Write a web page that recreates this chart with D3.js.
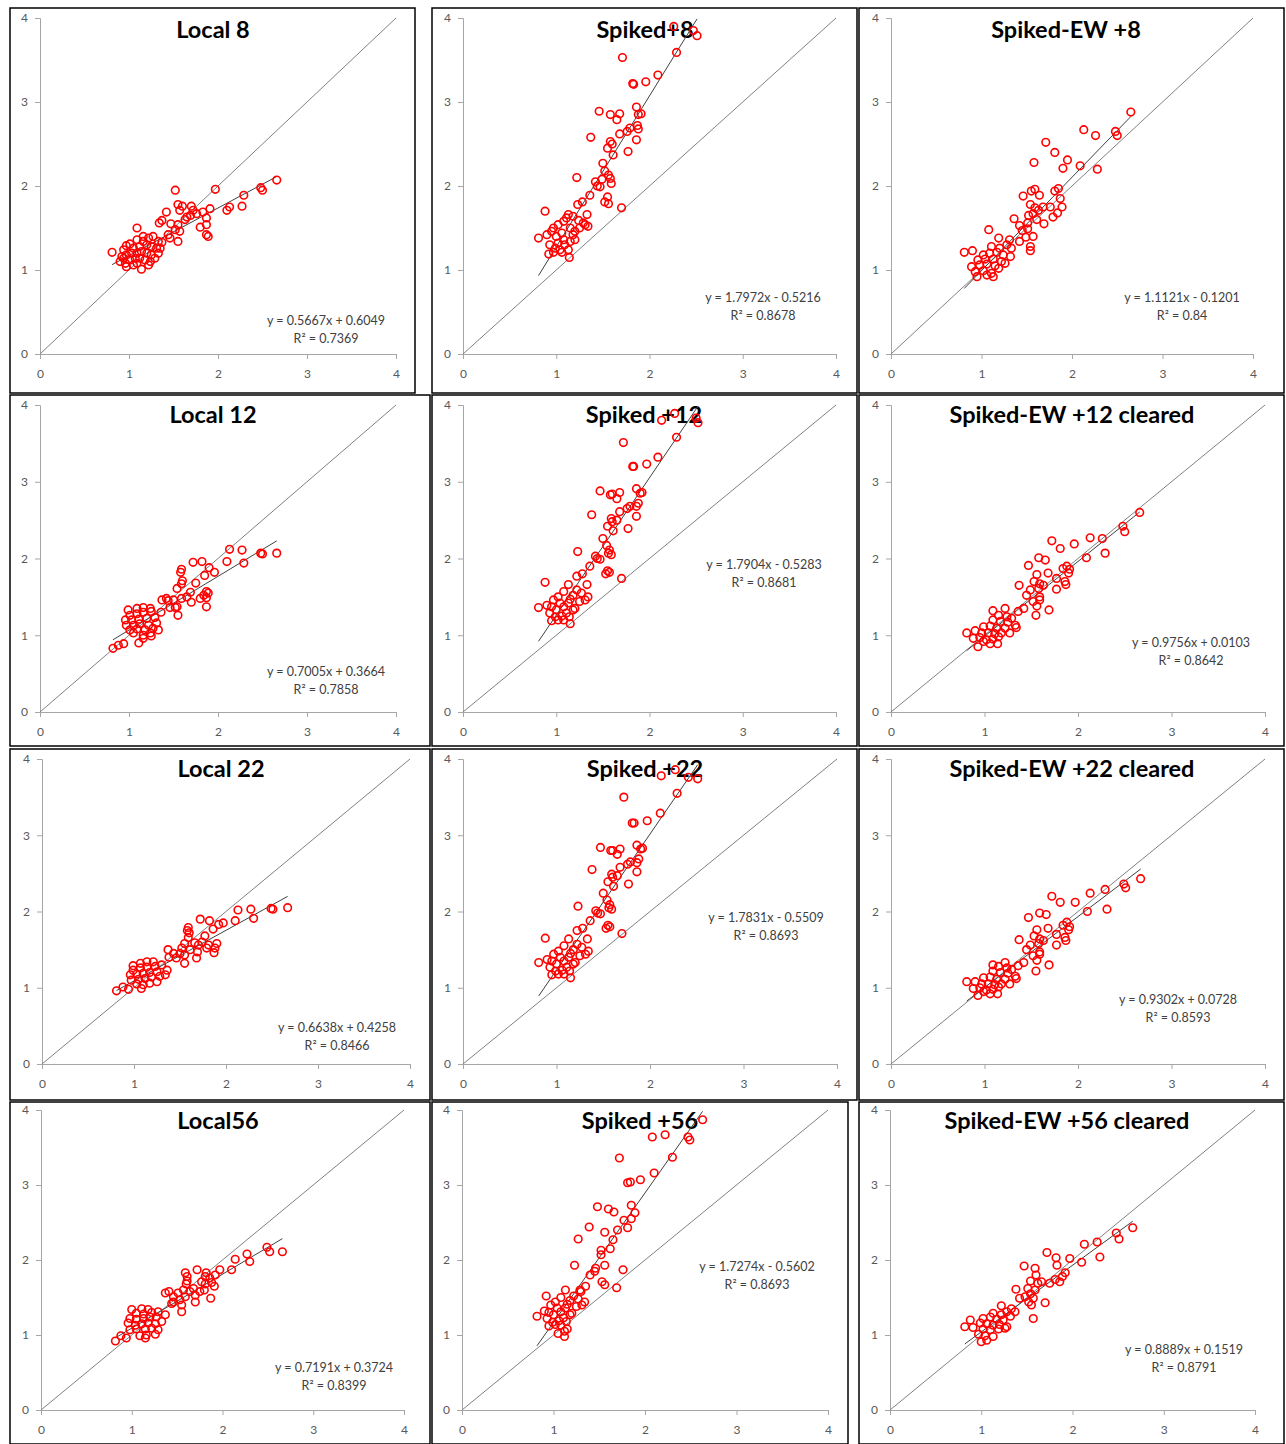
<!DOCTYPE html>
<html><head><meta charset="utf-8">
<script src="https://cdn.jsdelivr.net/npm/d3@7"></script>
<style>body{margin:0;background:#fff}svg{display:block}</style>
</head><body><svg id="c" width="1286" height="1444"></svg>
<script>
// ---------- DATA ----------
const titles = ["Local 8","Spiked+8","Spiked-EW +8","Local 12","Spiked +12","Spiked-EW +12 cleared","Local 22","Spiked +22","Spiked-EW +22 cleared","Local56","Spiked +56","Spiked-EW +56 cleared"];
const slopes = [0.5667,1.7972,1.1121,0.7005,1.7904,0.9756,0.6638,1.7831,0.9302,0.7191,1.7274,0.8889];
const intercepts = [0.6049,-0.5216,-0.1201,0.3664,-0.5283,0.0103,0.4258,-0.5509,0.0728,0.3724,-0.5602,0.1519];
const r2Labels = ["0.7369","0.8678","0.84","0.7858","0.8681","0.8642","0.8466","0.8693","0.8593","0.8399","0.8693","0.8791"];
const eqLabels = ["y = 0.5667x + 0.6049","y = 1.7972x - 0.5216","y = 1.1121x - 0.1201","y = 0.7005x + 0.3664","y = 1.7904x - 0.5283","y = 0.9756x + 0.0103","y = 0.6638x + 0.4258","y = 1.7831x - 0.5509","y = 0.9302x + 0.0728","y = 0.7191x + 0.3724","y = 1.7274x - 0.5602","y = 0.8889x + 0.1519"];
const tickValues = [0,1,2,3,4];

const local8 = [[2.66,2.07],[2.48,1.98],[2.50,1.95],[2.29,1.89],[2.27,1.76],[2.13,1.75],[2.10,1.71],[1.97,1.96],[1.52,1.95],[1.55,1.78],[1.60,1.76],[1.57,1.71],[1.70,1.76],[1.72,1.71],[1.69,1.65],[1.76,1.67],[1.83,1.69],[1.91,1.73],[1.65,1.63],[1.63,1.60],[1.87,1.62],[1.42,1.69],[1.37,1.59],[1.34,1.56],[1.47,1.55],[1.55,1.54],[1.57,1.46],[1.52,1.48],[1.80,1.51],[1.87,1.54],[1.87,1.42],[1.89,1.40],[1.55,1.34],[1.46,1.38],[1.44,1.42],[1.09,1.50],[0.81,1.21],
[0.97,1.29],[1.01,1.31],[1.09,1.36],[1.16,1.40],[1.22,1.38],[1.27,1.40],[1.33,1.34],[1.37,1.33],[0.94,1.24],[1.05,1.26],[1.12,1.28],[1.20,1.30],[1.25,1.28],[1.31,1.26],[0.92,1.16],[0.97,1.18],[1.03,1.20],[1.09,1.20],[1.14,1.22],[1.20,1.20],[1.25,1.18],[1.33,1.20],[0.90,1.10],[0.96,1.08],[1.01,1.12],[1.07,1.14],[1.12,1.14],[1.18,1.12],[1.24,1.10],[1.29,1.14],[0.97,1.04],[1.05,1.06],[1.14,1.01],[1.22,1.06],[1.09,1.08],[0.94,1.14],[1.16,1.34],[1.35,1.26]];

const spiked8 = [[2.26,3.90],[2.47,3.85],[2.51,3.79],[2.29,3.59],[1.71,3.53],[2.09,3.32],[1.96,3.24],[1.82,3.22],[1.83,3.21],[1.46,2.89],[1.58,2.85],[1.68,2.86],[1.65,2.79],[1.86,2.94],[1.91,2.86],[1.88,2.85],[1.79,2.69],[1.76,2.65],[1.87,2.72],[1.88,2.68],[1.68,2.62],[1.37,2.58],[1.58,2.53],[1.60,2.50],[1.86,2.55],[1.55,2.45],[1.77,2.41],[1.61,2.37],[1.50,2.27],[1.52,2.18],[1.56,2.13],[1.58,2.09],[1.59,2.03],[1.22,2.10],[1.49,2.08],[1.42,2.05],[1.44,2.00],[1.47,1.99],[1.36,1.89],[1.55,1.87],[1.52,1.81],[1.56,1.79],[1.70,1.74],[1.28,1.81],[1.23,1.78],[0.88,1.70],
[1.13,1.66],[1.11,1.62],[1.08,1.58],[1.02,1.54],[0.97,1.50],[1.18,1.64],[1.24,1.59],[1.29,1.56],[1.34,1.52],[1.33,1.66],[0.81,1.38],[0.90,1.42],[0.95,1.46],[1.00,1.40],[1.06,1.44],[1.15,1.50],[1.20,1.46],[1.25,1.50],[1.31,1.54],[0.93,1.30],[0.99,1.26],[1.04,1.24],[1.09,1.30],[1.15,1.34],[1.20,1.36],[0.92,1.19],[0.97,1.21],[1.06,1.21],[1.14,1.15],[1.13,1.24],[1.18,1.42],[1.08,1.36],[1.02,1.32]];

const spikedEW8 = [[2.65,2.88],[2.48,2.65],[2.50,2.60],[2.13,2.67],[2.26,2.60],[2.28,2.20],[2.09,2.24],[1.71,2.52],[1.81,2.40],[1.58,2.28],[1.95,2.31],[1.90,2.21],[1.46,1.88],[1.55,1.94],[1.59,1.96],[1.64,1.89],[1.81,1.94],[1.85,1.97],[1.87,1.85],[1.54,1.78],[1.59,1.74],[1.68,1.75],[1.76,1.75],[1.84,1.68],[1.89,1.75],[1.79,1.63],[1.52,1.65],[1.57,1.67],[1.63,1.71],[1.61,1.60],[1.36,1.61],[1.42,1.53],[1.51,1.56],[1.69,1.55],[1.45,1.47],[1.51,1.49],[1.57,1.40],[1.49,1.39],[1.42,1.34],[1.54,1.28],[1.54,1.23],[1.08,1.48],[1.19,1.38],[1.31,1.36],[1.28,1.30],[1.33,1.26],[0.81,1.21],[0.90,1.23],
[1.11,1.28],[1.20,1.26],[1.02,1.18],[1.09,1.20],[1.17,1.21],[1.24,1.18],[0.96,1.12],[1.04,1.13],[1.13,1.13],[1.22,1.10],[0.89,1.04],[0.98,1.06],[1.06,1.07],[1.15,1.05],[1.26,1.08],[0.93,0.98],[1.02,0.99],[1.11,0.96],[0.95,0.92],[1.06,0.94],[1.13,0.92],[1.19,1.02],[1.32,1.16]];

const local12 = [[2.66,2.07],[2.48,2.07],[2.50,2.06],[2.27,2.11],[2.29,1.94],[2.13,2.12],[2.10,1.96],[1.82,1.96],[1.72,1.95],[1.90,1.88],[1.96,1.82],[1.85,1.78],[1.59,1.86],[1.58,1.82],[1.60,1.71],[1.59,1.67],[1.75,1.68],[1.54,1.61],[1.87,1.57],[1.84,1.52],[1.89,1.55],[1.80,1.48],[1.87,1.49],[1.69,1.56],[1.65,1.50],[1.59,1.48],[1.70,1.43],[1.87,1.37],[1.54,1.37],[1.55,1.26],[1.50,1.46],[1.44,1.45],[1.37,1.46],[1.42,1.48],[1.46,1.36],[1.52,1.36],[1.36,1.30],[0.99,1.33],[0.82,0.83],[0.88,0.87],[0.94,0.89],[1.11,0.90],[1.16,0.96],[1.25,0.99],
[1.09,1.35],[1.16,1.36],[1.24,1.35],[1.01,1.26],[1.09,1.28],[1.16,1.30],[1.25,1.31],[0.96,1.20],[1.03,1.20],[1.11,1.21],[1.20,1.22],[1.29,1.23],[0.97,1.13],[1.05,1.13],[1.12,1.15],[1.22,1.13],[1.31,1.16],[1.01,1.07],[1.09,1.08],[1.18,1.07],[1.27,1.09],[1.33,1.07],[1.05,1.03],[1.16,1.00],[1.24,1.03]];

const spiked12 = [[2.27,3.89],[2.13,3.80],[2.50,3.83],[2.52,3.77],[2.29,3.58],[1.72,3.51],[2.09,3.32],[1.97,3.23],[1.82,3.20],[1.83,3.20],[1.47,2.88],[1.58,2.83],[1.60,2.84],[1.68,2.86],[1.65,2.78],[1.86,2.91],[1.90,2.85],[1.92,2.86],[1.79,2.68],[1.76,2.65],[1.88,2.72],[1.86,2.68],[1.68,2.61],[1.38,2.57],[1.59,2.52],[1.60,2.48],[1.65,2.50],[1.86,2.55],[1.55,2.42],[1.77,2.39],[1.61,2.36],[1.50,2.26],[1.54,2.17],[1.57,2.11],[1.59,2.05],[1.56,2.07],[1.23,2.09],[1.42,2.03],[1.44,2.00],[1.47,1.99],[1.36,1.90],[1.55,1.84],[1.53,1.80],[1.57,1.82],[1.70,1.74],[1.28,1.80],[1.22,1.77],[0.88,1.69],
[1.13,1.66],[1.33,1.66],[1.22,1.59],[1.27,1.55],[1.34,1.50],[1.08,1.57],[1.02,1.50],[0.97,1.46],[1.15,1.47],[1.18,1.52],[0.81,1.36],[0.90,1.39],[0.95,1.37],[1.00,1.33],[1.08,1.37],[1.13,1.42],[1.20,1.35],[1.25,1.44],[1.31,1.46],[0.93,1.29],[0.99,1.24],[1.06,1.25],[1.11,1.29],[1.18,1.33],[0.95,1.19],[1.02,1.20],[1.14,1.24],[1.15,1.15],[1.08,1.20],[1.04,1.42]];

const spikedEW12 = [[2.66,2.60],[2.48,2.42],[2.50,2.35],[2.26,2.26],[2.13,2.27],[2.29,2.07],[2.09,2.01],[1.96,2.19],[1.72,2.23],[1.81,2.13],[1.58,2.01],[1.65,1.98],[1.47,1.91],[1.88,1.90],[1.84,1.87],[1.91,1.86],[1.90,1.81],[1.68,1.81],[1.77,1.74],[1.86,1.70],[1.87,1.66],[1.77,1.60],[1.56,1.79],[1.53,1.70],[1.59,1.67],[1.63,1.65],[1.58,1.61],[1.49,1.59],[1.45,1.52],[1.37,1.65],[1.59,1.50],[1.52,1.44],[1.59,1.46],[1.56,1.38],[1.69,1.33],[1.55,1.26],[1.42,1.35],[1.36,1.31],[1.09,1.32],[1.22,1.35],
[1.15,1.26],[1.24,1.24],[1.29,1.22],[1.09,1.20],[1.17,1.18],[1.25,1.17],[1.33,1.13],[0.99,1.11],[1.06,1.12],[1.13,1.09],[1.22,1.09],[1.34,1.10],[0.81,1.03],[0.90,1.06],[0.97,1.03],[1.04,1.03],[1.11,1.02],[1.18,1.03],[1.27,1.03],[0.88,0.96],[0.95,0.97],[1.02,0.94],[1.09,0.95],[1.15,0.98],[0.93,0.85],[0.99,0.92],[1.06,0.89],[1.14,0.89]];

const local22 = [[2.67,2.05],[2.49,2.04],[2.51,2.03],[2.27,2.03],[2.30,1.91],[2.13,2.02],[2.10,1.88],[1.97,1.85],[1.92,1.83],[1.82,1.88],[1.72,1.90],[1.86,1.77],[1.59,1.79],[1.58,1.75],[1.60,1.72],[1.59,1.66],[1.77,1.68],[1.66,1.59],[1.70,1.56],[1.74,1.60],[1.81,1.56],[1.90,1.58],[1.88,1.52],[1.87,1.46],[1.79,1.52],[1.69,1.47],[1.68,1.39],[1.55,1.58],[1.52,1.52],[1.61,1.50],[1.50,1.45],[1.55,1.43],[1.46,1.39],[1.55,1.32],[1.37,1.50],[1.43,1.45],[1.38,1.40],[0.99,1.29],[0.81,0.96],[0.88,1.01],[0.94,0.98],
[1.07,1.32],[1.14,1.34],[1.21,1.34],[0.99,1.23],[1.07,1.26],[1.14,1.27],[1.23,1.28],[1.30,1.30],[0.96,1.17],[1.03,1.18],[1.10,1.19],[1.17,1.20],[1.25,1.21],[1.36,1.23],[0.97,1.10],[1.05,1.11],[1.12,1.12],[1.19,1.14],[1.28,1.15],[1.34,1.17],[1.03,1.05],[1.10,1.04],[1.17,1.06],[1.25,1.08],[1.08,0.99]];

const spiked22 = [[2.12,3.78],[2.27,3.86],[2.41,3.76],[2.51,3.74],[2.29,3.55],[1.72,3.50],[2.11,3.29],[1.97,3.19],[1.81,3.16],[1.83,3.16],[1.47,2.84],[1.58,2.80],[1.60,2.80],[1.68,2.82],[1.65,2.75],[1.86,2.87],[1.90,2.82],[1.92,2.83],[1.79,2.65],[1.76,2.62],[1.88,2.69],[1.86,2.64],[1.68,2.58],[1.38,2.55],[1.59,2.49],[1.60,2.45],[1.65,2.47],[1.86,2.52],[1.55,2.39],[1.77,2.36],[1.61,2.33],[1.50,2.24],[1.54,2.15],[1.57,2.09],[1.59,2.03],[1.56,2.05],[1.23,2.07],[1.42,2.01],[1.44,1.98],[1.47,1.97],[1.36,1.88],[1.55,1.82],[1.53,1.78],[1.57,1.80],[1.70,1.71],[1.28,1.78],[1.22,1.75],[0.88,1.65],
[1.13,1.64],[1.33,1.64],[1.22,1.57],[1.27,1.53],[1.34,1.48],[1.08,1.55],[1.02,1.48],[0.97,1.44],[1.15,1.45],[1.18,1.50],[0.81,1.33],[0.90,1.37],[0.95,1.35],[1.00,1.31],[1.08,1.35],[1.13,1.40],[1.20,1.33],[1.25,1.42],[1.31,1.44],[0.93,1.27],[0.99,1.22],[1.06,1.23],[1.11,1.27],[1.18,1.31],[0.95,1.17],[1.02,1.18],[1.14,1.22],[1.15,1.13],[1.08,1.18],[1.04,1.40]];

const spikedEW22 = [[2.67,2.43],[2.49,2.36],[2.51,2.31],[2.29,2.29],[2.13,2.24],[2.31,2.03],[2.10,2.00],[1.97,2.12],[1.72,2.20],[1.81,2.12],[1.59,1.98],[1.66,1.96],[1.47,1.92],[1.88,1.86],[1.84,1.82],[1.91,1.80],[1.90,1.76],[1.68,1.78],[1.77,1.70],[1.86,1.66],[1.87,1.62],[1.77,1.56],[1.56,1.76],[1.53,1.68],[1.59,1.64],[1.63,1.62],[1.58,1.58],[1.49,1.56],[1.45,1.50],[1.37,1.63],[1.59,1.47],[1.52,1.42],[1.59,1.44],[1.56,1.36],[1.69,1.30],[1.55,1.22],[1.42,1.33],[1.36,1.29],[1.09,1.30],[1.22,1.33],
[1.15,1.28],[1.24,1.26],[1.29,1.24],[1.09,1.22],[1.17,1.20],[1.25,1.19],[1.33,1.15],[0.99,1.13],[1.06,1.14],[1.13,1.11],[1.22,1.11],[1.34,1.12],[0.81,1.08],[0.90,1.08],[0.97,1.05],[1.04,1.05],[1.11,1.04],[1.18,1.05],[1.27,1.05],[0.88,0.99],[0.95,1.00],[1.02,0.97],[1.09,0.98],[1.15,1.01],[0.93,0.90],[0.99,0.95],[1.06,0.92],[1.14,0.92]];

const local56 = [[2.66,2.11],[2.49,2.17],[2.52,2.11],[2.27,2.08],[2.30,1.98],[2.14,2.01],[2.10,1.87],[1.97,1.87],[1.72,1.87],[1.82,1.83],[1.81,1.78],[1.92,1.80],[1.86,1.76],[1.88,1.70],[1.91,1.65],[1.81,1.68],[1.80,1.60],[1.87,1.49],[1.59,1.83],[1.61,1.78],[1.61,1.72],[1.60,1.68],[1.77,1.71],[1.68,1.62],[1.75,1.58],[1.70,1.53],[1.64,1.58],[1.70,1.44],[1.57,1.60],[1.51,1.56],[1.59,1.51],[1.53,1.47],[1.46,1.44],[1.55,1.40],[1.55,1.31],[1.37,1.56],[1.41,1.58],[1.46,1.51],[1.44,1.42],[1.00,1.34],[0.82,0.92],[0.88,0.99],[0.94,0.96],
[1.11,1.35],[1.18,1.34],[1.05,1.29],[1.13,1.28],[1.22,1.30],[1.29,1.31],[0.98,1.22],[1.05,1.21],[1.13,1.22],[1.20,1.24],[1.27,1.24],[0.96,1.16],[1.04,1.13],[1.11,1.15],[1.18,1.16],[1.26,1.15],[1.33,1.18],[1.37,1.27],[0.98,1.07],[1.05,1.08],[1.15,1.08],[1.22,1.09],[1.29,1.07],[1.09,0.99],[1.16,1.00],[1.26,1.01],[1.15,0.96]];

const spiked56 = [[2.63,3.87],[2.47,3.64],[2.49,3.60],[2.22,3.67],[2.08,3.64],[2.30,3.37],[1.72,3.36],[2.10,3.16],[1.95,3.07],[1.81,3.03],[1.84,3.04],[1.48,2.71],[1.60,2.68],[1.66,2.64],[1.85,2.73],[1.89,2.63],[1.39,2.44],[1.77,2.53],[1.81,2.43],[1.56,2.37],[1.65,2.27],[1.52,2.13],[1.52,2.07],[1.56,1.93],[1.27,2.28],[1.46,1.89],[1.76,1.87],[1.53,1.71],[1.56,1.67],[1.69,1.63],[1.23,1.93],[1.29,1.60],[0.92,1.52],[0.82,1.25],[1.40,1.80],[1.45,1.85],[1.35,1.65],[1.62,2.15],[1.70,2.40],[1.85,2.55],
[1.13,1.60],[1.30,1.58],[1.22,1.52],[1.27,1.48],[1.34,1.44],[1.08,1.50],[1.02,1.44],[0.97,1.40],[1.15,1.41],[1.18,1.46],[0.90,1.32],[0.95,1.30],[1.00,1.27],[1.08,1.31],[1.13,1.36],[1.20,1.29],[1.25,1.38],[1.31,1.40],[0.93,1.22],[0.99,1.17],[1.06,1.19],[1.11,1.23],[1.18,1.27],[0.95,1.12],[1.02,1.14],[1.14,1.18],[1.15,1.08],[1.08,1.13],[1.04,1.36],[1.12,1.05],[1.05,1.02],[1.12,0.98]];

const spikedEW56 = [[2.66,2.43],[2.48,2.36],[2.51,2.28],[2.27,2.24],[2.30,2.04],[2.13,2.21],[2.10,1.97],[1.97,2.02],[1.72,2.10],[1.82,2.03],[1.83,1.93],[1.92,1.83],[1.89,1.78],[1.86,1.71],[1.81,1.74],[1.75,1.69],[1.47,1.92],[1.59,1.89],[1.60,1.80],[1.54,1.72],[1.62,1.69],[1.66,1.71],[1.38,1.61],[1.51,1.62],[1.59,1.60],[1.54,1.55],[1.48,1.51],[1.42,1.49],[1.57,1.49],[1.52,1.44],[1.55,1.40],[1.70,1.43],[1.22,1.39],[1.57,1.22],[0.88,1.20],[0.82,1.11],
[1.33,1.35],[1.28,1.31],[1.37,1.31],[1.13,1.29],[1.22,1.27],[1.32,1.25],[1.02,1.22],[1.10,1.24],[1.17,1.21],[1.24,1.20],[0.99,1.16],[1.06,1.15],[1.13,1.13],[1.20,1.14],[1.28,1.11],[0.91,1.10],[1.02,1.08],[1.10,1.07],[1.19,1.08],[1.26,1.09],[0.97,1.01],[1.04,0.99],[1.13,0.98],[1.06,0.93],[1.00,0.91]];

const seriesData = [local8,spiked8,spikedEW8,local12,spiked12,spikedEW12,local22,spiked22,spikedEW22,local56,spiked56,spikedEW56];

// ---------- LAYOUT (pixels, not data) ----------
const layout = [
 {box:[10,8,415,393],  xr:[40,396],  yr:[354,18],   title:[213,32],   eq:[326,322]},
 {box:[432,8,857,393], xr:[463,836], yr:[354,18],   title:[645,32],   eq:[763,299]},
 {box:[859,8,1284,393],xr:[891,1253],yr:[354,18],   title:[1066,32],  eq:[1182,299]},
 {box:[10,395,430,746], xr:[40,396],  yr:[712,405],  title:[213,417],  eq:[326,673]},
 {box:[432,395,857,746],xr:[463,836], yr:[712,405],  title:[644,417],  eq:[764,566]},
 {box:[859,395,1284,746],xr:[891,1265],yr:[712,405], title:[1072,417], eq:[1191,644]},
 {box:[10,749,430,1100],xr:[42,410],  yr:[1064,759], title:[221,771],  eq:[337,1029]},
 {box:[432,749,857,1100],xr:[463,837],yr:[1064,759], title:[645,771],  eq:[766,919]},
 {box:[859,749,1284,1100],xr:[891,1265],yr:[1064,759],title:[1072,771],eq:[1178,1001]},
 {box:[10,1102,430,1444],xr:[41,404], yr:[1410,1110],title:[218,1123], eq:[334,1369]},
 {box:[432,1102,848,1444],xr:[462,828],yr:[1410,1110],title:[640,1123],eq:[757,1268]},
 {box:[859,1102,1284,1444],xr:[890,1255],yr:[1410,1110],title:[1067,1123],eq:[1184,1351]}
];

const svg = d3.select("#c");
const FONT = "Lato, 'Open Sans', sans-serif";

layout.forEach((L,i)=>{
  const g = svg.append("g");
  const x = d3.scaleLinear().domain([0,4]).range(L.xr);
  const y = d3.scaleLinear().domain([0,4]).range(L.yr);
  const data = seriesData[i];

  const ax = g.append("g").attr("transform",`translate(0,${L.yr[0]})`)
    .call(d3.axisBottom(x).tickValues(tickValues).tickSize(5).tickPadding(10).tickFormat(d3.format("d")));
  const ay = g.append("g").attr("transform",`translate(${L.xr[0]},0)`)
    .call(d3.axisLeft(y).tickValues(tickValues).tickSize(5).tickPadding(7).tickFormat(d3.format("d")));
  [ax,ay].forEach(a=>{
    a.select(".domain").attr("stroke","#a6a6a6").attr("stroke-width",1);
    a.selectAll(".tick line").attr("stroke","#a6a6a6");
    a.selectAll(".tick text").attr("fill","#595959").style("font-family",FONT).style("font-size","12px");
  });

  g.append("line").attr("x1",x(0)).attr("y1",y(0)).attr("x2",x(4)).attr("y2",y(4))
    .attr("stroke","#808080").attr("stroke-width",1);

  g.append("text").attr("x",L.title[0]).attr("y",L.title[1]).attr("text-anchor","middle")
    .attr("dominant-baseline","middle").style("font-family",FONT).style("font-weight","bold")
    .style("font-size","23.5px").attr("fill","#000").text(titles[i]);

  const ext = d3.extent(data,d=>d[0]);
  const f = v=>slopes[i]*v+intercepts[i];
  g.append("line").attr("x1",x(ext[0])).attr("y1",y(f(ext[0]))).attr("x2",x(ext[1])).attr("y2",y(f(ext[1])))
    .attr("stroke","#404040").attr("stroke-width",1);

  g.selectAll("circle").data(data).enter().append("circle")
    .attr("cx",d=>x(d[0])).attr("cy",d=>y(d[1])).attr("r",3.8)
    .attr("fill","none").attr("stroke","#ff0000").attr("stroke-width",1.6);

  g.append("text").attr("x",L.eq[0]).attr("y",L.eq[1]).attr("text-anchor","middle").attr("dominant-baseline","middle")
    .style("font-family",FONT).style("font-size","12.5px").attr("fill","#404040").text(eqLabels[i]);
  g.append("text").attr("x",L.eq[0]).attr("y",L.eq[1]+18).attr("text-anchor","middle").attr("dominant-baseline","middle")
    .style("font-family",FONT).style("font-size","12.5px").attr("fill","#404040").text("R² = " + r2Labels[i]);

  g.append("rect").attr("x",L.box[0]).attr("y",L.box[1]).attr("width",L.box[2]-L.box[0]).attr("height",L.box[3]-L.box[1])
    .attr("fill","none").attr("stroke","#000").attr("stroke-width",1.5);
});
</script>
</body></html>
